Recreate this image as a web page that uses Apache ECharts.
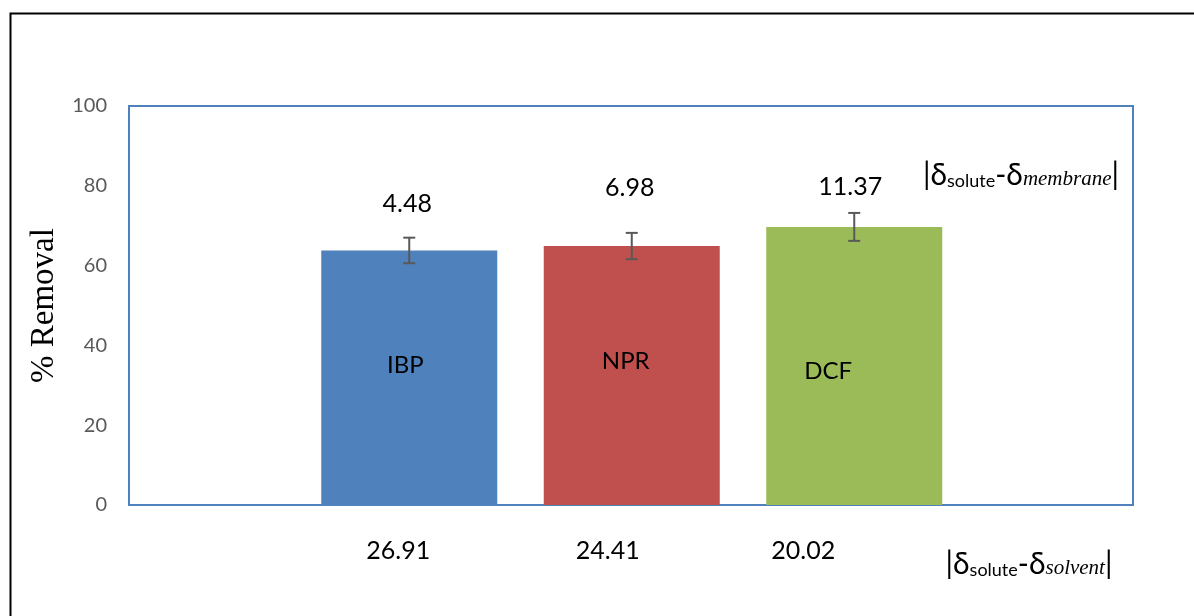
<!DOCTYPE html>
<html>
<head>
<meta charset="utf-8">
<script src="https://cdn.jsdelivr.net/npm/echarts@6/dist/echarts.min.js"></script>
<style>
  html, body { margin: 0; padding: 0; background: #fff; }
  #chart { width: 1194px; height: 616px; }
</style>
</head>
<body>
<div id="chart"></div>
<script>
// ---- data ----
const compounds = ['IBP', 'NPR', 'DCF'];
const removal = [63.8, 64.9, 69.7];
const removalErr = [3.2, 3.3, 3.5];
const deltaMembrane = ['4.48', '6.98', '11.37'];
const deltaSolvent = ['26.91', '24.41', '20.02'];
const yMin = 0, yMax = 100, yStep = 20;

// ---- styles ----
const barColors = ['#4F81BD', '#C0504D', '#9BBB59'];
const nameOffsets = [[-4, -12], [-6, -14], [-26, 5]];
const topLabelRise = [47, 58, 40];
const topLabelShift = [-2, -2, -4];
const solventPad = [22, 48, 102];
const sansFont = 'Lato';

const chart = echarts.init(document.getElementById('chart'), null, { renderer: 'canvas' });

const richX = {};
solventPad.forEach((p, i) => {
  richX['l' + i] = { fontFamily: sansFont, fontSize: 25, color: '#000', padding: [0, p, 0, 0] };
});

function deltaRich(mainSize, subSize, itSize) {
  return {
    n: { fontFamily: sansFont, fontSize: mainSize, color: '#000', lineHeight: 40, verticalAlign: 'bottom' },
    s: { fontFamily: sansFont, fontSize: subSize, color: '#000', lineHeight: 20, verticalAlign: 'bottom' },
    i: { fontFamily: 'Liberation Serif', fontStyle: 'italic', fontSize: itSize, color: '#000', lineHeight: 25, verticalAlign: 'bottom' }
  };
}

const option = {
  animation: false,
  backgroundColor: '#fff',
  grid: [
    { left: 129, right: 61, top: 106, bottom: 111, show: true, borderColor: '#4F81BD', borderWidth: 2, backgroundColor: 'transparent' },
    { left: 298, right: 228.5, top: 106, bottom: 111 }
  ],
  xAxis: [
    { type: 'category', gridIndex: 0, data: [''], show: false },
    {
      type: 'category', gridIndex: 1, data: compounds,
      axisLine: { show: false }, axisTick: { show: false },
      axisLabel: {
        margin: 33,
        formatter: (v, idx) => '{l' + idx + '|' + deltaSolvent[idx] + '}',
        rich: richX
      }
    }
  ],
  yAxis: [
    {
      type: 'value', gridIndex: 0, min: yMin, max: yMax, interval: yStep,
      axisLine: { show: false }, axisTick: { show: false }, splitLine: { show: false },
      axisLabel: { margin: 22, color: '#595959', fontFamily: sansFont, fontSize: 20 },
      name: '% Removal', nameLocation: 'middle', nameRotate: 90, nameGap: 65,
      nameTextStyle: { fontFamily: 'Liberation Serif', fontSize: 33, color: '#000' }
    },
    {
      type: 'value', gridIndex: 1, min: yMin, max: yMax, interval: yStep, show: false,
      splitLine: { show: false }
    }
  ],
  series: [
    {
      type: 'bar', xAxisIndex: 1, yAxisIndex: 1, barWidth: 176,
      data: compounds.map((c, i) => ({
        value: removal[i],
        itemStyle: { color: barColors[i] },
        label: { offset: nameOffsets[i] }
      })),
      label: {
        show: true, position: 'inside', formatter: '{b}',
        fontFamily: sansFont, fontSize: 24, color: '#000'
      }
    },
    {
      type: 'custom', xAxisIndex: 1, yAxisIndex: 1, z: 5,
      data: compounds.map((c, i) => [i, removal[i] - removalErr[i], removal[i] + removalErr[i], removal[i]]),
      renderItem: function (params, api) {
        const i = api.value(0);
        const lo = api.coord([i, api.value(1)]);
        const hi = api.coord([i, api.value(2)]);
        const top = api.coord([i, api.value(3)]);
        const half = 6;
        const st = { stroke: '#595959', lineWidth: 2 };
        return {
          type: 'group',
          children: [
            { type: 'line', shape: { x1: hi[0], y1: hi[1], x2: lo[0], y2: lo[1] }, style: st },
            { type: 'line', shape: { x1: hi[0] - half, y1: hi[1], x2: hi[0] + half, y2: hi[1] }, style: st },
            { type: 'line', shape: { x1: lo[0] - half, y1: lo[1], x2: lo[0] + half, y2: lo[1] }, style: st },
            {
              type: 'text', x: top[0] + topLabelShift[params.dataIndex], y: top[1] - topLabelRise[params.dataIndex],
              style: {
                text: deltaMembrane[params.dataIndex], fill: '#000',
                fontFamily: sansFont, fontSize: 25, align: 'center', verticalAlign: 'middle'
              }
            }
          ]
        };
      }
    }
  ],
  graphic: [
    {
      type: 'rect', left: 8, top: 11, silent: true,
      shape: { x: 0, y: 0, width: 1400, height: 800 },
      style: { fill: 'none', stroke: '#000', lineWidth: 2 }
    },
    {
      type: 'text', x: 1021, y: 170, silent: true,
      style: {
        text: '{n||δ}{s|solute}{n|-δ}{i|membrane}{n||}',
        rich: deltaRich(30, 18, 21), align: 'center', verticalAlign: 'middle'
      }
    },
    {
      type: 'text', x: 1029, y: 559, silent: true,
      style: {
        text: '{n||δ}{s|solute}{n|-δ}{i|solvent}{n||}',
        rich: deltaRich(30, 18, 21), align: 'center', verticalAlign: 'middle'
      }
    }
  ]
};

chart.setOption(option);
</script>
</body>
</html>
